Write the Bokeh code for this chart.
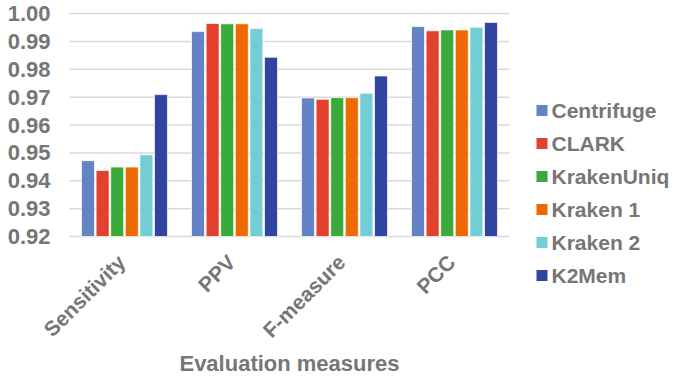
from bokeh.plotting import figure
from bokeh.models import Range1d, ColumnDataSource
from bokeh.core.properties import value
from bokeh.embed import file_html
from bokeh.resources import INLINE
import math

measures = ["Sensitivity", "PPV", "F-measure", "PCC"]
tools = ["Centrifuge", "CLARK", "KrakenUniq", "Kraken 1", "Kraken 2", "K2Mem"]
centrifuge = [0.9472, 0.9935, 0.9697, 0.9953]
clark = [0.9437, 0.9964, 0.9692, 0.9938]
krakenuniq = [0.9449, 0.9963, 0.9698, 0.9941]
kraken1 = [0.9449, 0.9963, 0.9698, 0.9941]
kraken2 = [0.9493, 0.9946, 0.9714, 0.9951]
k2mem = [0.9709, 0.9843, 0.9776, 0.9968]
series = [centrifuge, clark, krakenuniq, kraken1, kraken2, k2mem]
colors = ["#6383C4", "#E2412D", "#3AAA3A", "#EE6A00", "#72CED4", "#3145A0"]
yticks = [0.92, 0.93, 0.94, 0.95, 0.96, 0.97, 0.98, 0.99, 1.00]
ytick_labels = ["0.92", "0.93", "0.94", "0.95", "0.96", "0.97", "0.98", "0.99", "1.00"]
x_title = "Evaluation measures"

FONT = "Liberation Sans"
GRAY = "#767676"

# layout constants (pixels)
W, H = 674, 377
LEFT, TOP = 69, 13
CAT_PX = 110.0           # width of one category
Y_BASE, Y_MAX = yticks[0], yticks[-1]
PLOT_H_PX = 223.0        # pixels between Y_BASE and Y_MAX
ppu_y = PLOT_H_PX / (Y_MAX - Y_BASE)
n = len(measures)
x_start = -LEFT / CAT_PX
x_end = (W - LEFT) / CAT_PX
y_start = Y_BASE - (H - TOP - PLOT_H_PX) / ppu_y
y_end = Y_MAX + TOP / ppu_y

p = figure(width=W, height=H, x_range=Range1d(x_start, x_end), y_range=Range1d(y_start, y_end),
           x_axis_type=None, y_axis_type=None, output_backend="svg", toolbar_location=None,
           min_border=0)
p.outline_line_color = None
p.grid.visible = False

# gridlines across the category extent only
p.segment(x0=0, x1=n, y0=yticks, y1=yticks, line_color="#D9D9D9", line_width=1.5)

# y tick labels
p.text(x=0, y=yticks, text=ytick_labels, x_offset=-19, text_align="right", text_baseline="middle",
       text_font=value(FONT), text_font_style="bold", text_font_size="22px", text_color=GRAY)

slot = 0.1327
for j, (t, c, s) in enumerate(zip(tools, colors, series)):
    xs = [i + 0.5 + (j - 2.5) * slot for i in range(n)]
    p.vbar(x=xs, top=s, bottom=Y_BASE, width=0.118, fill_color=c,
           line_color="white", line_width=1, line_alpha=0.7)

# category labels (rotated)
p.text(x=[i + 0.5 for i in range(n)], y=Y_BASE, text=measures, angle=math.pi / 4,
       x_offset=-3, y_offset=22, text_align="right", text_baseline="middle",
       text_font=value(FONT), text_font_style="bold", text_font_size="21px", text_color=GRAY)
# axis title
p.text(x=[n / 2], y=Y_BASE, text=[x_title], y_offset=127, text_align="center", text_baseline="middle",
       text_font=value(FONT), text_font_style="bold", text_font_size="22px", text_color=GRAY)

# legend
lsrc = ColumnDataSource(dict(
    tool=tools, color=colors,
    y=[Y_MAX - (97 + 33 * i) / ppu_y for i in range(len(tools))]))
lx_sq = n + 32.5 / CAT_PX
lx_tx = n + 42 / CAT_PX
p.scatter(x=lx_sq, y="y", marker="square", size=11, fill_color="color", line_color=None, source=lsrc)
p.text(x=lx_tx, y="y", text="tool", source=lsrc, text_baseline="middle", text_align="left",
       text_font=value(FONT), text_font_style="bold", text_font_size="21px", text_color=GRAY)

open("out.html", "w").write(file_html(p, INLINE))
